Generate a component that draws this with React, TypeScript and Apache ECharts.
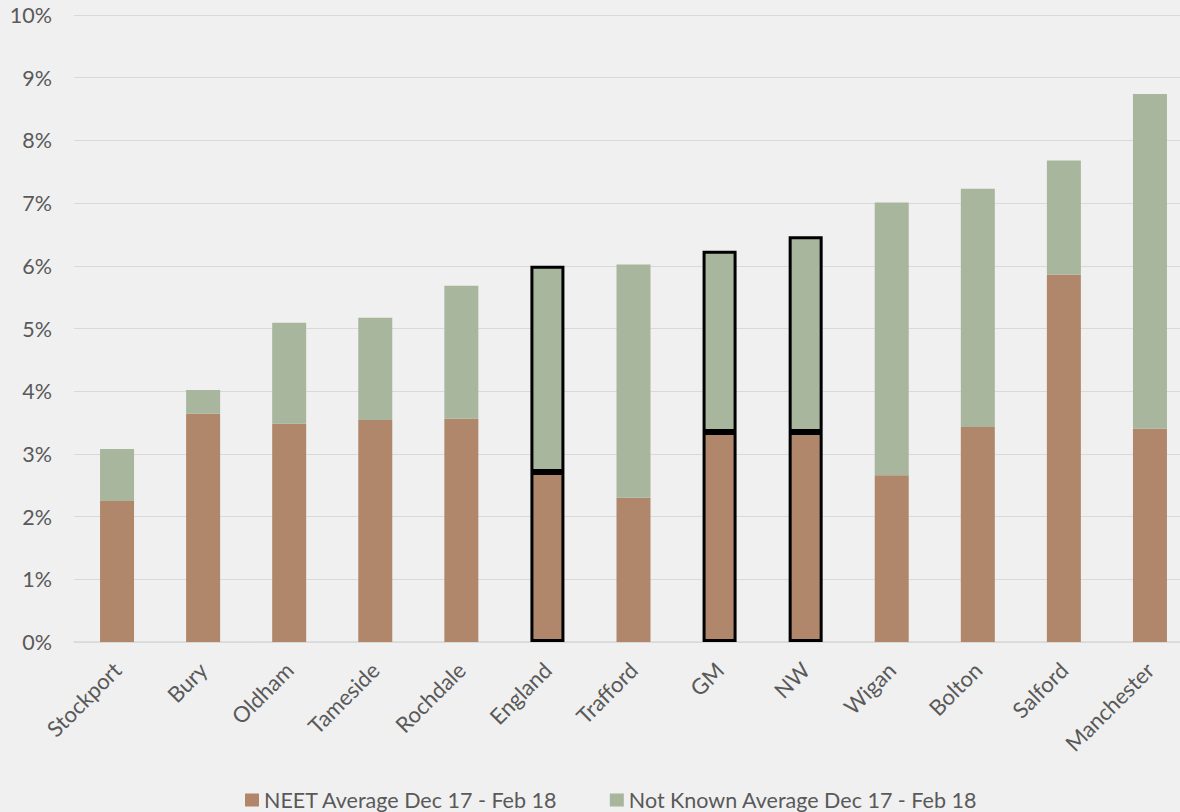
import React, { useEffect, useRef } from "react";
import * as echarts from "echarts";

const categories = [
  "Stockport", "Bury", "Oldham", "Tameside", "Rochdale", "England", "Trafford",
  "GM", "NW", "Wigan", "Bolton", "Salford", "Manchester",
];
// Percent of young people, averaged over Dec 17 - Feb 18
const neet = [2.25, 3.64, 3.48, 3.54, 3.56, 2.71, 2.30, 3.35, 3.35, 2.66, 3.43, 5.86, 3.40];
const notKnown = [0.83, 0.38, 1.61, 1.63, 2.12, 3.29, 3.72, 2.89, 3.12, 4.35, 3.80, 1.82, 5.34];
// Benchmark areas drawn with an outline
const benchmarks = ["England", "GM", "NW"];
const yTicks = { min: 0, max: 10, interval: 1 };

const NEET_COLOR = "#B0876B";
const NK_COLOR = "#A7B69D";
const TEXT_COLOR = "#595959";
const FONT = "Lato, 'Open Sans', sans-serif";

function seriesData(values: number[], color: string) {
  return values.map((v, i) =>
    benchmarks.includes(categories[i])
      ? { value: v, itemStyle: { color, borderColor: "#000", borderWidth: 3 } }
      : { value: v, itemStyle: { color } }
  );
}

export default function App() {
  const ref = useRef<HTMLDivElement>(null);
  useEffect(() => {
    document.body.style.margin = "0";
    document.body.style.overflow = "hidden";
    const chart = echarts.init(ref.current!, null, { renderer: "svg" });
    chart.setOption({
      animation: false,
      backgroundColor: "#F0F0F0",
      grid: { left: 74, right: 0, top: 15, bottom: 170 },
      legend: {
        bottom: 0,
        left: 245,
        padding: 0,
        itemWidth: 14,
        itemHeight: 13,
        itemGap: 52,
        icon: "rect",
        textStyle: { color: TEXT_COLOR, fontSize: 21.5, fontFamily: FONT, lineHeight: 24 },
        data: ["NEET Average Dec 17 - Feb 18", "Not Known Average Dec 17 - Feb 18"],
      },
      xAxis: {
        type: "category",
        data: categories,
        axisLine: { lineStyle: { color: "#D9D9D9", width: 1.5 } },
        axisTick: { show: false },
        axisLabel: {
          rotate: 45,
          interval: 0,
          color: TEXT_COLOR,
          fontSize: 22,
          fontFamily: FONT,
          margin: 24,
        },
      },
      yAxis: {
        type: "value",
        min: yTicks.min,
        max: yTicks.max,
        interval: yTicks.interval,
        axisLine: { show: false },
        axisTick: { show: false },
        splitLine: { lineStyle: { color: "#D9D9D9", width: 1.2 } },
        axisLabel: {
          formatter: "{value}%",
          color: TEXT_COLOR,
          fontSize: 21.5,
          fontFamily: FONT,
          margin: 22,
        },
      },
      series: [
        {
          name: "NEET Average Dec 17 - Feb 18",
          type: "bar",
          stack: "total",
          barWidth: "39.5%",
          itemStyle: { color: NEET_COLOR },
          data: seriesData(neet, NEET_COLOR),
        },
        {
          name: "Not Known Average Dec 17 - Feb 18",
          type: "bar",
          stack: "total",
          barWidth: "39.5%",
          itemStyle: { color: NK_COLOR },
          data: seriesData(notKnown, NK_COLOR),
        },
      ],
    });
    return () => chart.dispose();
  }, []);
  return <div ref={ref} style={{ width: 1193, height: 812 }} />;
}
